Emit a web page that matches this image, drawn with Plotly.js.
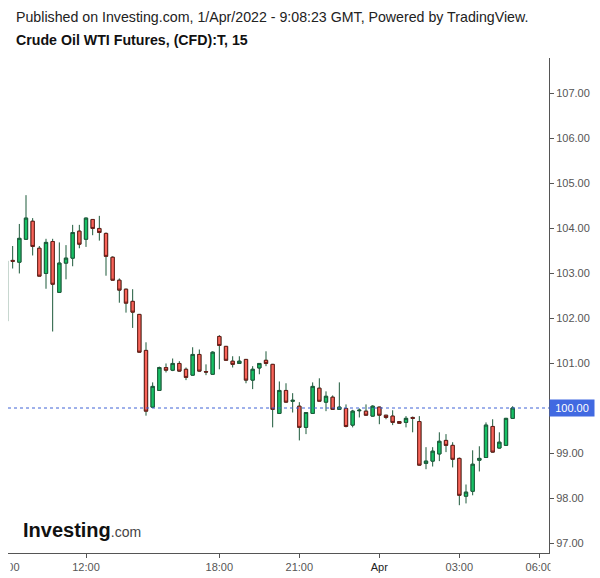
<!DOCTYPE html>
<html>
<head>
<meta charset="utf-8">
<script src="https://cdn.plot.ly/plotly-3.0.1.min.js"></script>
<style>html,body{margin:0;padding:0;background:#fff;}#chart{width:600px;height:578px;}</style>
</head>
<body>
<div id="chart"></div>
<script>
// 15-minute candles, index 0..76
const opens  = [101.93,103.28,103.24,103.75,104.15,103.55,102.99,103.70,102.57,103.22,103.33,103.93,103.75,104.19,103.99,103.88,103.35,102.84,102.64,102.37,102.08,101.28,100.02,100.39,100.90,100.84,100.99,100.86,100.73,101.19,100.81,100.75,101.59,101.37,101.04,100.99,101.08,100.62,100.89,101.06,100.97,99.88,100.39,100.15,100.04,99.57,99.88,100.44,100.13,100.24,99.97,99.99,99.62,99.94,99.93,99.82,100.02,99.84,99.82,99.70,99.68,99.79,99.70,98.77,98.82,98.98,99.28,99.17,98.88,98.04,98.15,98.84,98.90,99.59,99.11,99.17,99.77];
const highs  = [103.27,103.60,104.09,104.73,104.22,103.60,103.76,103.76,103.68,103.62,104.07,104.07,104.23,104.20,104.27,103.90,103.37,102.88,102.65,102.64,102.09,101.46,100.57,100.92,100.99,101.10,101.04,100.90,101.35,101.30,100.97,101.26,101.62,101.37,101.15,101.15,101.08,100.93,101.00,101.26,100.98,100.59,100.55,100.33,100.13,99.91,100.57,100.66,100.37,100.28,100.57,100.08,99.96,99.99,100.08,100.06,100.03,99.84,99.95,99.71,99.82,99.81,99.82,99.13,99.13,99.46,99.42,99.24,98.90,98.30,99.06,99.15,99.68,99.75,99.46,99.78,100.04];
const lows   = [101.93,103.10,102.99,103.74,103.39,102.93,102.65,101.70,102.57,102.86,103.15,103.55,103.58,103.84,103.72,102.94,102.84,102.34,102.12,101.78,101.23,99.83,100.00,100.39,100.79,100.82,100.81,100.62,100.72,100.81,100.73,100.74,100.86,101.06,100.90,100.99,100.55,100.42,100.75,100.93,99.57,99.88,100.12,99.90,99.28,99.42,99.87,100.15,99.93,99.96,99.97,99.57,99.57,99.79,99.83,99.81,99.64,99.75,99.62,99.65,99.57,99.46,98.72,98.64,98.70,98.82,99.02,98.68,97.84,97.88,98.06,98.59,98.89,99.01,99.10,99.16,99.76];
const closes = [103.27,103.26,103.77,104.22,103.59,102.93,103.68,102.75,103.22,103.33,103.90,103.64,104.22,103.99,103.90,103.37,102.84,102.62,102.33,102.13,101.24,99.93,100.48,100.90,100.84,100.99,100.82,100.68,101.19,100.82,100.80,101.24,101.39,101.06,100.97,101.04,100.62,100.86,100.99,100.99,99.97,100.39,100.13,100.17,99.57,99.90,100.48,100.15,100.26,99.97,100.02,99.59,99.93,99.95,99.84,100.04,99.84,99.79,99.68,99.66,99.77,99.77,98.73,98.82,99.04,99.26,99.17,98.86,98.06,98.13,98.75,98.88,99.62,99.02,99.24,99.77,100.00];

const timeTickIdx   = [12, 32, 44, 56, 68, 80];
const timeTickText  = ['12:00', '18:00', '21:00', '<span style="color:#222">Apr</span>', '03:00', '06:00'];
const firstTickIdx  = 0;
const firstTickText = '09:00';
const priceTicks    = [97, 98, 99, 100, 101, 102, 103, 104, 105, 106, 107];

const idx = opens.map((_, i) => i);
const bodyHigh = opens.map((o, i) => Math.max(o, closes[i]));
const bodyLow  = opens.map((o, i) => Math.min(o, closes[i]));
const lastPrice = closes[closes.length - 1];

const WICK = '#1d5a3b';
const GREEN_FILL = '#17c266', GREEN_LINE = '#1d5a3b';
const RED_FILL = '#f9655a', RED_LINE = '#6b1c18';

const wicks = {
  type: 'candlestick', x: idx, open: opens, high: highs, low: lows, close: closes,
  increasing: {line: {color: WICK, width: 1}, fillcolor: 'rgba(0,0,0,0)'},
  decreasing: {line: {color: WICK, width: 1}, fillcolor: 'rgba(0,0,0,0)'},
  whiskerwidth: 0, hoverinfo: 'skip', showlegend: false
};
const bodies = {
  type: 'candlestick', x: idx, open: opens, high: bodyHigh, low: bodyLow, close: closes,
  increasing: {line: {color: GREEN_LINE, width: 1}, fillcolor: GREEN_FILL},
  decreasing: {line: {color: RED_LINE, width: 1}, fillcolor: RED_FILL},
  whiskerwidth: 0, showlegend: false
};

const L = 8, R = 51, T = 58, B = 25, W = 600 - L - R, H = 578 - T - B;
const XR0 = 0.3, XR1 = 81.45;
const px = x => (x - L) / W;
const py = y => (578 - B - y) / H;
const idxToPaper = i => (i - XR0) / (XR1 - XR0);
const FONT = 'Liberation Sans, Arial, sans-serif';
const AXFONT = {family: FONT, size: 11, color: '#555'};

const layout = {
  width: 600, height: 578,
  margin: {l: L, r: R, t: T, b: B, pad: 0},
  paper_bgcolor: '#ffffff', plot_bgcolor: '#ffffff',
  showlegend: false, boxmode: 'overlay', boxgap: 0.3,
  xaxis: {
    range: [XR0, XR1], tickmode: 'array', tickvals: timeTickIdx, ticktext: timeTickText,
    ticks: 'outside', ticklen: 4, tickcolor: '#555', tickwidth: 1,
    showline: true, linecolor: '#555', linewidth: 1,
    showgrid: false, zeroline: false, rangeslider: {visible: false},
    tickfont: AXFONT
  },
  yaxis: {
    side: 'right', range: [96.778, 107.778], tickmode: 'array', tickvals: priceTicks, tickformat: '.2f',
    ticks: 'outside', ticklen: 4, tickcolor: '#555', tickwidth: 1,
    showline: true, linecolor: '#555', linewidth: 1,
    showgrid: false, zeroline: false,
    tickfont: AXFONT
  },
  shapes: [
    {type: 'line', xref: 'paper', yref: 'y', x0: 0, x1: 1, y0: lastPrice, y1: lastPrice,
     line: {color: '#3f63d6', width: 1, dash: 'dot'}}
  ],
  annotations: [
    {xref: 'paper', yref: 'paper', x: px(14), y: py(17), xanchor: 'left', yanchor: 'middle', showarrow: false,
     text: 'Published on Investing.com, 1/Apr/2022 - 9:08:23 GMT, Powered by TradingView.',
     font: {family: FONT, size: 14.2, color: '#222'}},
    {xref: 'paper', yref: 'paper', x: px(14), y: py(40), xanchor: 'left', yanchor: 'middle', showarrow: false,
     text: '<b>Crude Oil WTI Futures, (CFD):T, 15</b>',
     font: {family: FONT, size: 14.2, color: '#111'}},
    // first time label, partly cut by the pane edge as in the source
    {xref: 'paper', yref: 'paper', x: idxToPaper(firstTickIdx), y: py(567), xanchor: 'center', yanchor: 'middle', showarrow: false,
     text: firstTickText, font: AXFONT},
    // white masks reproducing the clipping of edge labels
    {xref: 'paper', yref: 'paper', x: px(-4), y: py(567), xanchor: 'left', yanchor: 'middle', showarrow: false,
     text: '.', font: {family: FONT, size: 10, color: '#ffffff'}, width: 13.2, height: 18, bgcolor: '#ffffff', borderpad: 0},
    {xref: 'paper', yref: 'paper', x: px(549.6), y: py(567), xanchor: 'left', yanchor: 'middle', showarrow: false,
     text: '.', font: {family: FONT, size: 10, color: '#ffffff'}, width: 50, height: 18, bgcolor: '#ffffff', borderpad: 0},
    {xref: 'paper', yref: 'y', x: 1, y: lastPrice, xanchor: 'left', yanchor: 'middle', showarrow: false,
     text: lastPrice.toFixed(2), bgcolor: '#4169e1', borderpad: 2, width: 40, align: 'center',
     font: {family: FONT, size: 11, color: '#ffffff'}},
    {xref: 'paper', yref: 'paper', x: px(21), y: py(530), xanchor: 'left', yanchor: 'middle', showarrow: false,
     text: '<b>Investing</b><span style="font-size:14px;color:#444">.com</span>',
     font: {family: FONT, size: 20, color: '#111'}}
  ]
};

Plotly.newPlot('chart', [wicks, bodies], layout, {displayModeBar: false, staticPlot: true});
</script>
</body>
</html>
